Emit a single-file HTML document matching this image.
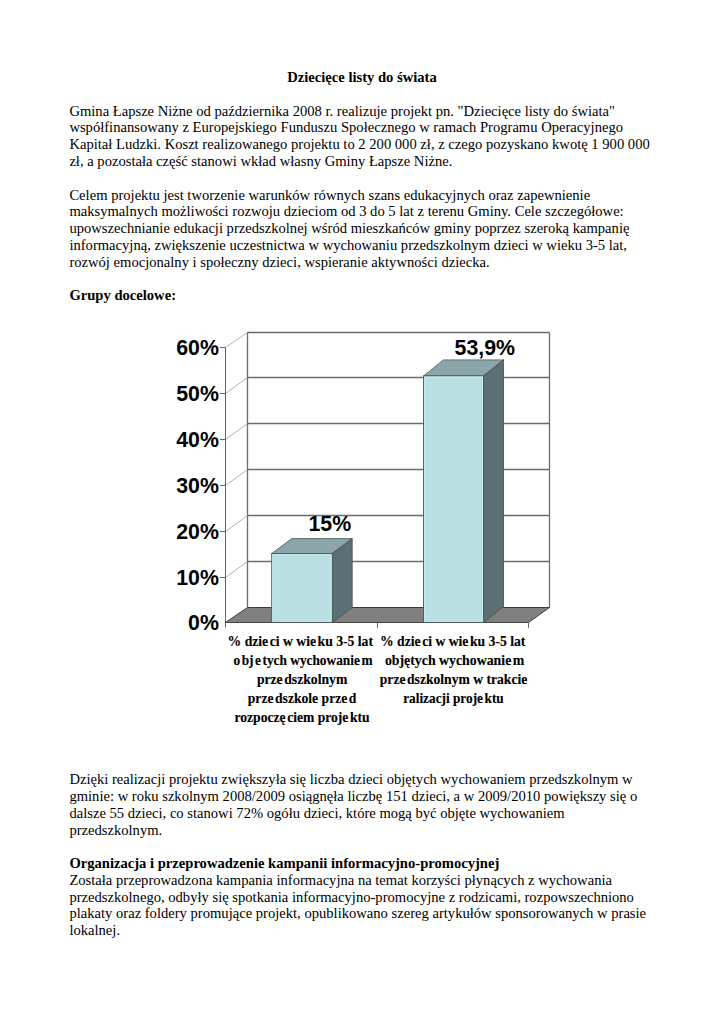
<!DOCTYPE html>
<html lang="pl">
<head>
<meta charset="utf-8">
<title>Dziecięce listy do świata</title>
<style>
html,body{margin:0;padding:0;background:#fff;}
body{width:724px;height:1024px;position:relative;overflow:hidden;
font-family:"Liberation Serif","Times New Roman",serif;font-size:14.6px;line-height:16.8px;color:#000;}
.p{position:absolute;left:69.4px;white-space:nowrap;}
.b{font-weight:bold;}
#chart{position:absolute;left:0;top:0;}
</style>
</head>
<body>
<div class="p b" style="top:69.27px;left:0;width:724px;text-align:center">Dziecięce listy do świata</div>
<div class="p" style="top:102.67px">Gmina Łapsze Niżne od października 2008 r. realizuje projekt pn. "Dziecięce listy do świata"<br>
współfinansowany z Europejskiego Funduszu Społecznego w ramach Programu Operacyjnego<br>
Kapitał Ludzki. Koszt realizowanego projektu to 2 200 000 zł, z czego pozyskano kwotę 1 900 000<br>
zł, a pozostała część stanowi wkład własny Gminy Łapsze Niżne.</div>
<div class="p" style="top:186.67px">Celem projektu jest tworzenie warunków równych szans edukacyjnych oraz zapewnienie<br>
maksymalnych możliwości rozwoju dzieciom od 3 do 5 lat z terenu Gminy. Cele szczegółowe:<br>
upowszechnianie edukacji przedszkolnej wśród mieszkańców gminy poprzez szeroką kampanię<br>
informacyjną, zwiększenie uczestnictwa w wychowaniu przedszkolnym dzieci w wieku 3-5 lat,<br>
rozwój emocjonalny i społeczny dzieci, wspieranie aktywności dziecka.</div>
<div class="p b" style="top:287.47px">Grupy docelowe:</div>
<div class="p" style="top:771.37px;line-height:16.75px">Dzięki realizacji projektu zwiększyła się liczba dzieci objętych wychowaniem przedszkolnym w<br>
gminie: w roku szkolnym 2008/2009 osiągnęła liczbę 151 dzieci, a w 2009/2010 powiększy się o<br>
dalsze 55 dzieci, co stanowi 72% ogółu dzieci, które mogą być objęte wychowaniem<br>
przedszkolnym.</div>
<div class="p b" style="top:855.12px;line-height:16.75px">Organizacja i przeprowadzenie kampanii informacyjno-promocyjnej</div>
<div class="p" style="top:871.87px;line-height:16.75px">Została przeprowadzona kampania informacyjna na temat korzyści płynących z wychowania<br>
przedszkolnego, odbyły się spotkania informacyjno-promocyjne z rodzicami, rozpowszechniono<br>
plakaty oraz foldery promujące projekt, opublikowano szereg artykułów sponsorowanych w prasie<br>
lokalnej.</div>
<svg id="chart" width="724" height="1024" viewBox="0 0 724 1024">
<style>
.g{stroke:#6c6c6c;stroke-width:1.3;fill:none}
.d{stroke:#a0a0a0;stroke-width:0.8;fill:none}
.t{stroke:#666;stroke-width:1;fill:none}
.ya,.dl{font-family:"Liberation Sans",Arial,sans-serif;font-weight:bold;font-size:22.5px;fill:#000}
.ya{text-anchor:end}
.dl{text-anchor:middle}
.cx{font-family:"Liberation Serif","Times New Roman",serif;font-weight:bold;font-size:14px;fill:#000;stroke:#000;stroke-width:0.12px}
</style>
<polygon points="225.5,347.5 247.5,332.5 247.5,607.5 225.5,622.5" fill="#fff"/>
<line x1="247.5" y1="561.5" x2="549.5" y2="561.5" class="g"/>
<line x1="225.5" y1="577.5" x2="247.5" y2="561.5" class="d"/>
<line x1="220" y1="577.5" x2="225.5" y2="577.5" class="t"/>
<line x1="247.5" y1="515.5" x2="549.5" y2="515.5" class="g"/>
<line x1="225.5" y1="531.5" x2="247.5" y2="515.5" class="d"/>
<line x1="220" y1="531.5" x2="225.5" y2="531.5" class="t"/>
<line x1="247.5" y1="469.5" x2="549.5" y2="469.5" class="g"/>
<line x1="225.5" y1="485.5" x2="247.5" y2="469.5" class="d"/>
<line x1="220" y1="485.5" x2="225.5" y2="485.5" class="t"/>
<line x1="247.5" y1="423.5" x2="549.5" y2="423.5" class="g"/>
<line x1="225.5" y1="439.5" x2="247.5" y2="423.5" class="d"/>
<line x1="220" y1="439.5" x2="225.5" y2="439.5" class="t"/>
<line x1="247.5" y1="377.5" x2="549.5" y2="377.5" class="g"/>
<line x1="225.5" y1="393.5" x2="247.5" y2="377.5" class="d"/>
<line x1="220" y1="393.5" x2="225.5" y2="393.5" class="t"/>
<line x1="247.5" y1="332.5" x2="549.5" y2="332.5" class="g"/>
<line x1="225.5" y1="347.5" x2="247.5" y2="332.5" class="d"/>
<line x1="220" y1="347.5" x2="225.5" y2="347.5" class="t"/>
<line x1="247.5" y1="332.5" x2="247.5" y2="607.5" class="g"/>
<line x1="549.5" y1="332.5" x2="549.5" y2="607.5" class="g"/>
<line x1="225.5" y1="347.5" x2="225.5" y2="627.5" class="t"/>
<polygon points="225.5,622.5 247.5,607.5 549.5,607.5 528.5,622.5" fill="#808080" stroke="#3c3c3c" stroke-width="1"/>
<line x1="225.5" y1="622.5" x2="528.5" y2="622.5" stroke="#444" stroke-width="1.1"/>
<line x1="377.5" y1="622.5" x2="377.5" y2="627.8" class="t"/>
<line x1="528.5" y1="622.5" x2="528.5" y2="627.8" class="t"/>
<polygon points="271.7,553.6 291.7,538.6 352.2,538.6 332.2,553.6" fill="#8aa6a9" stroke="#46585a" stroke-width="0.8"/>
<polygon points="332.2,553.6 352.2,538.6 352.2,607.5 332.2,622.5" fill="#5c7073" stroke="#3e4d4f" stroke-width="0.8"/>
<rect x="271.7" y="553.6" width="60.5" height="68.9" fill="#bae0e3" stroke="#46585a" stroke-width="0.9"/>
<polyline points="272.9,621.5 272.9,554.8000000000001 331.0,554.8000000000001 331.0,621.5" fill="none" stroke="#c9eff2" stroke-width="0.9"/>
<polygon points="423.5,375.9 443.5,359.9 503.5,359.9 483.5,375.9" fill="#8aa6a9" stroke="#46585a" stroke-width="0.8"/>
<polygon points="483.5,375.9 503.5,359.9 503.5,606.5 483.5,622.5" fill="#5c7073" stroke="#3e4d4f" stroke-width="0.8"/>
<rect x="423.5" y="375.9" width="60.0" height="246.6" fill="#bae0e3" stroke="#46585a" stroke-width="0.9"/>
<polyline points="424.7,621.5 424.7,377.09999999999997 482.3,377.09999999999997 482.3,621.5" fill="none" stroke="#c9eff2" stroke-width="0.9"/>
<text transform="translate(218.9,629.8) scale(0.947,1)" class="ya">0%</text>
<text transform="translate(218.9,584.8) scale(0.947,1)" class="ya">10%</text>
<text transform="translate(218.9,538.8) scale(0.947,1)" class="ya">20%</text>
<text transform="translate(218.9,492.8) scale(0.947,1)" class="ya">30%</text>
<text transform="translate(218.9,446.8) scale(0.947,1)" class="ya">40%</text>
<text transform="translate(218.9,400.8) scale(0.947,1)" class="ya">50%</text>
<text transform="translate(218.9,354.8) scale(0.947,1)" class="ya">60%</text>
<text transform="translate(329.8,531.2) scale(0.947,1)" class="dl">15%</text>
<text transform="translate(484.8,354.8) scale(0.947,1)" class="dl">53,9%</text>
<text x="227.6" y="645.8" textLength="145.4" lengthAdjust="spacingAndGlyphs" class="cx">% dzie<tspan dx="1.6">ci w wie</tspan><tspan dx="1.6">ku 3-5 lat</tspan></text>
<text x="233.5" y="664.8" textLength="139.0" lengthAdjust="spacingAndGlyphs" class="cx">o<tspan dx="1.6">bj</tspan><tspan dx="1.6">e</tspan><tspan dx="1.6">tych wychowanie</tspan><tspan dx="1.6">m</tspan></text>
<text x="256.9" y="683.9" textLength="90.4" lengthAdjust="spacingAndGlyphs" class="cx">prze<tspan dx="1.6">dszkolnym</tspan></text>
<text x="247.8" y="703.0" textLength="108.6" lengthAdjust="spacingAndGlyphs" class="cx">prze<tspan dx="1.6">dszkole prze</tspan><tspan dx="1.6">d</tspan></text>
<text x="234.5" y="722.1" textLength="135.1" lengthAdjust="spacingAndGlyphs" class="cx">rozpoczę<tspan dx="1.6">ciem proje</tspan><tspan dx="1.6">ktu</tspan></text>
<text x="380.0" y="645.8" textLength="145.4" lengthAdjust="spacingAndGlyphs" class="cx">% dzie<tspan dx="1.6">ci w wie</tspan><tspan dx="1.6">ku 3-5 lat</tspan></text>
<text x="384.9" y="664.8" textLength="139.5" lengthAdjust="spacingAndGlyphs" class="cx">objętych wychowanie<tspan dx="1.6">m</tspan></text>
<text x="379.8" y="683.9" textLength="147.5" lengthAdjust="spacingAndGlyphs" class="cx">prze<tspan dx="1.6">dszkolnym w trakcie</tspan></text>
<text x="403.2" y="703.0" textLength="100.5" lengthAdjust="spacingAndGlyphs" class="cx">ralizacji proje<tspan dx="1.6">ktu</tspan></text>
</svg>
</body>
</html>
